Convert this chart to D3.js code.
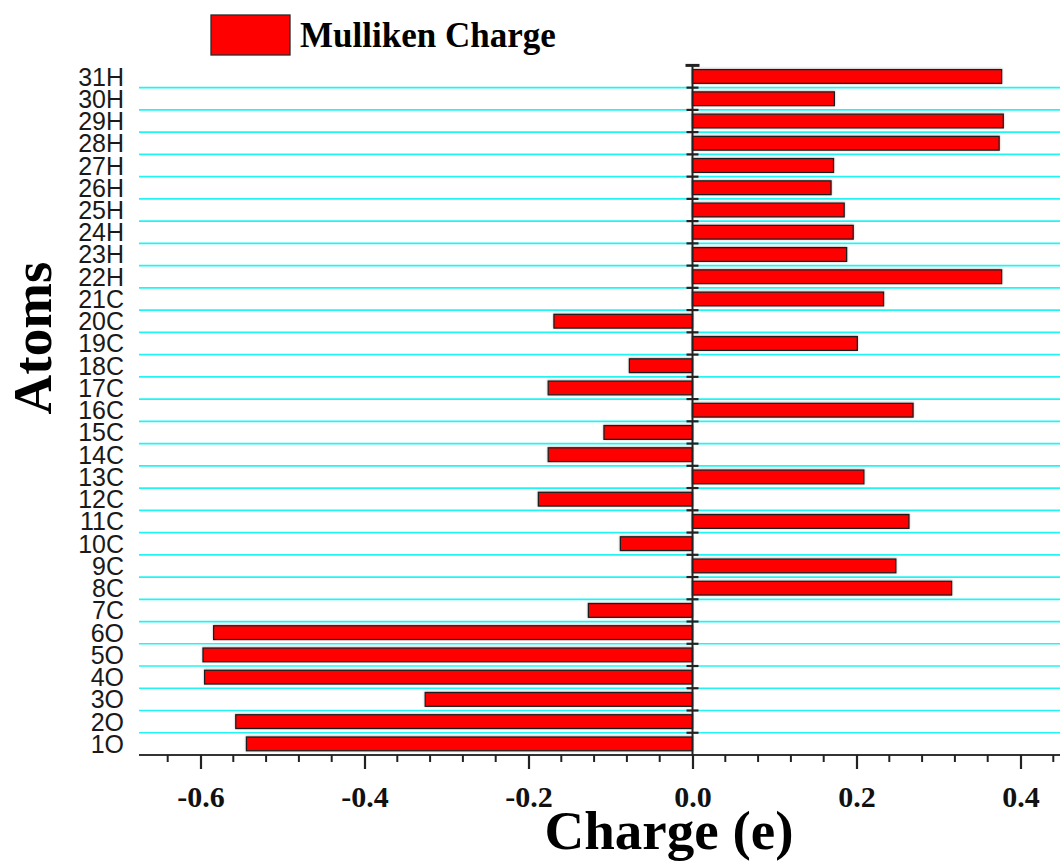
<!DOCTYPE html>
<html>
<head>
<meta charset="utf-8">
<script src="https://cdn.jsdelivr.net/npm/d3@7"></script>
<style>
  html, body { margin: 0; padding: 0; background: #ffffff; }
  svg { display: block; }
</style>
</head>
<body>
<svg id="chart" width="1060" height="862"></svg>
<script>
// ---- data (bottom to top) ----
const atoms = ["1O","2O","3O","4O","5O","6O","7C","8C","9C","10C","11C","12C","13C","14C","15C","16C",
  "17C","18C","19C","20C","21C","22H","23H","24H","25H","26H","27H","28H","29H","30H","31H"];
const charges = [-0.544,-0.557,-0.326,-0.595,-0.597,-0.584,-0.127,0.316,0.248,-0.088,0.264,-0.188,0.209,-0.176,-0.108,0.269,
  -0.176,-0.077,0.201,-0.169,0.233,0.377,0.188,0.196,0.185,0.169,0.172,0.374,0.379,0.173,0.377];
const xMajorTicks = [-0.6,-0.4,-0.2,0.0,0.2,0.4];
const xMinorTicks = [-0.64,-0.56,-0.52,-0.48,-0.44,-0.36,-0.32,-0.28,-0.24,-0.16,-0.12,-0.08,-0.04,
  0.04,0.08,0.12,0.16,0.24,0.28,0.32,0.36,0.44];
const seriesName = "Mulliken Charge";
const xTitle = "Charge (e)";
const yTitle = "Atoms";

const svg = d3.select("#chart");
const plotLeft = 139, plotRight = 1061.5, plotTop = 65.4, plotBottom = 755;

const x = d3.scaleLinear().domain([-0.675, 0.45]).range([plotLeft, plotRight]);
const y = d3.scaleBand().domain(atoms).range([plotBottom, plotTop]).paddingInner(0).paddingOuter(0);
const barPad = 0.38;

const serif = "'Liberation Serif','Times New Roman',serif";
const sans = "'Liberation Sans',Arial,sans-serif";

const defs = svg.append("defs");
const f = defs.append("filter").attr("id","halo").attr("x","-10%").attr("y","-60%").attr("width","120%").attr("height","220%");
f.append("feDropShadow").attr("dx",0).attr("dy",-0.5).attr("stdDeviation",1.1)
  .attr("flood-color","#808080").attr("flood-opacity",0.55);

// gridlines at category boundaries
const bounds = atoms.slice(1).map(a => y(a) + y.bandwidth());
svg.append("g").selectAll("line").data(bounds).join("line")
  .attr("x1", plotLeft).attr("x2", 1060)
  .attr("y1", d => d).attr("y2", d => d)
  .attr("stroke", "#22f4f4").attr("stroke-width", 1.7);

// bars
svg.append("g").selectAll("rect").data(atoms).join("rect")
  .attr("x", (d,i) => Math.min(x(0), x(charges[i])))
  .attr("width", (d,i) => Math.abs(x(charges[i]) - x(0)))
  .attr("y", d => y(d) + y.bandwidth()*barPad/2)
  .attr("height", y.bandwidth()*(1-barPad))
  .attr("fill", "#ff0000")
  .attr("stroke", "#1c1c1c").attr("stroke-width", 1.3)
  .attr("filter", "url(#halo)");

// x axis
const xAxisG = svg.append("g").attr("transform", `translate(0,${plotBottom})`);
xAxisG.append("line").attr("x1", plotLeft).attr("x2", 1060).attr("y1",0).attr("y2",0)
  .attr("stroke","#333").attr("stroke-width",2.2);
const xMajor = d3.axisBottom(x).tickValues(xMajorTicks).tickSize(14).tickPadding(17)
  .tickFormat(d3.format(".1f"));
xAxisG.call(xMajor);
xAxisG.select(".domain").remove();
xAxisG.selectAll(".tick line").attr("stroke","#222").attr("stroke-width",2.2);
xAxisG.selectAll(".tick text")
  .text(d => (d < 0 ? "-" : "") + Math.abs(d).toFixed(1))
  .attr("font-family", serif).attr("font-weight","bold").attr("font-size", 30)
  .attr("fill","#111");
const xMinorG = svg.append("g").attr("transform", `translate(0,${plotBottom})`);
xMinorG.selectAll("line").data(xMinorTicks).join("line")
  .attr("x1", d => x(d)).attr("x2", d => x(d)).attr("y1",0).attr("y2",7)
  .attr("stroke","#222").attr("stroke-width",2);

// y axis at zero
const zx = x(0);
svg.append("line").attr("x1", zx).attr("x2", zx).attr("y1", plotTop).attr("y2", plotBottom)
  .attr("stroke","#222").attr("stroke-width",2);
svg.append("g").selectAll("line").data(bounds).join("line")
  .attr("x1", zx-6).attr("x2", zx+6).attr("y1", d => d).attr("y2", d => d)
  .attr("stroke","#222").attr("stroke-width",2.2);
svg.append("line").attr("x1", zx-7).attr("x2", zx+7).attr("y1", plotTop).attr("y2", plotTop)
  .attr("stroke","#222").attr("stroke-width",3);

// category labels
const yAxisG = svg.append("g").attr("transform", "translate(124,0)")
  .call(d3.axisLeft(y).tickSize(0).tickPadding(0));
yAxisG.select(".domain").remove();
yAxisG.selectAll(".tick text")
  .attr("font-family", sans).attr("font-size", 25).attr("fill","#1a1a1a").attr("dy","0.36em");

// titles
svg.append("text").attr("x", 669).attr("y", 849).attr("text-anchor","middle")
  .attr("font-family", serif).attr("font-weight","bold").attr("font-size", 55)
  .attr("fill","#000").text(xTitle);
svg.append("text").attr("transform", "translate(51,338) rotate(-90)").attr("text-anchor","middle")
  .attr("font-family", serif).attr("font-weight","bold").attr("font-size", 55)
  .attr("fill","#000").text(yTitle);

// legend
svg.append("rect").attr("x", 211).attr("y", 15).attr("width", 79).attr("height", 40)
  .attr("fill","#ff0000").attr("stroke","#2a2a2a").attr("stroke-width",1.3);
svg.append("text").attr("x", 300).attr("y", 47)
  .attr("font-family", serif).attr("font-weight","bold").attr("font-size", 35)
  .attr("fill","#000").text(seriesName);
</script>
</body>
</html>
